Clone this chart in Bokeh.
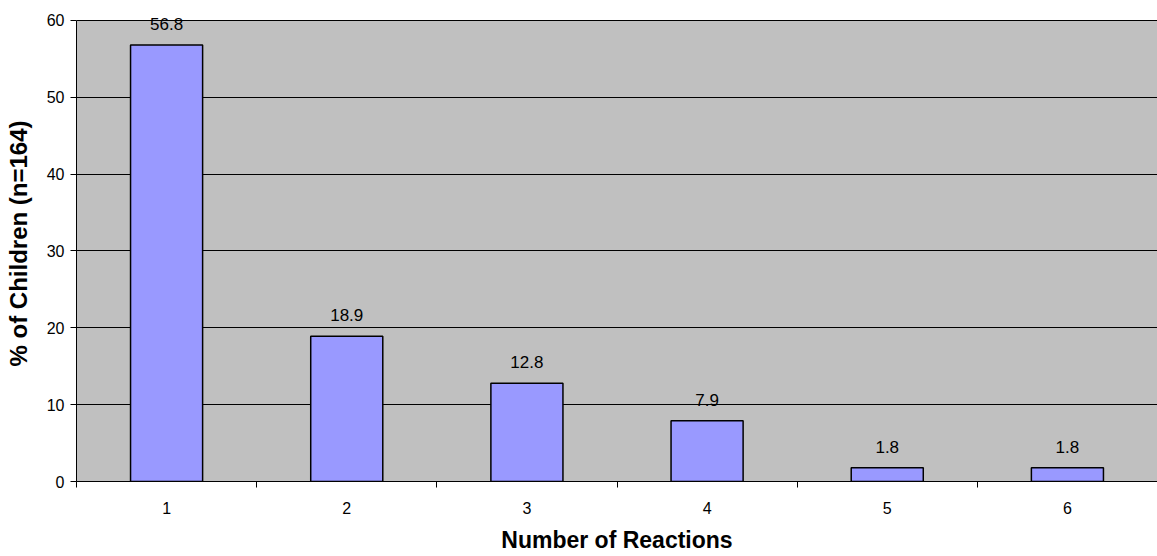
from bokeh.plotting import figure
from bokeh.models import ColumnDataSource, FixedTicker, Range1d, LabelSet, BoxAnnotation
from bokeh.embed import file_html
from bokeh.resources import INLINE
from bokeh.core.properties import value

categories = [1, 2, 3, 4, 5, 6]
percent = [56.8, 18.9, 12.8, 7.9, 1.8, 1.8]
labels = ["56.8", "18.9", "12.8", "7.9", "1.8", "1.8"]
y_ticks = [0, 10, 20, 30, 40, 50, 60]
y_max = 60

src = ColumnDataSource(dict(x=categories, y=percent, lab=labels))

p = figure(width=1157, height=556, output_backend="svg", toolbar_location=None,
           x_range=Range1d(0.5, 6.5), y_range=Range1d(0, 61.95),
           min_border_left=76, min_border_right=0, min_border_top=5, min_border_bottom=75)
p.background_fill_color = "white"
p.border_fill_color = "white"
p.outline_line_color = None

bg = BoxAnnotation(bottom=0, top=y_max, level="image", fill_color="#C0C0C0",
                   fill_alpha=1, line_color=None)
p.add_layout(bg)

p.vbar(x="x", top="y", width=0.4, source=src, fill_color="#9999FF",
       line_color="black", line_width=1.5)
lbl = LabelSet(x="x", y="y", text="lab", source=src, text_align="center",
               text_baseline="bottom", y_offset=15, text_font_size=value("17px"),
               text_font=value("Liberation Sans"), text_color="black")
p.add_layout(lbl)

p.xgrid.visible = False
p.ygrid.grid_line_color = "black"
p.ygrid.grid_line_width = 1
p.ygrid.ticker = FixedTicker(ticks=y_ticks)

p.yaxis.ticker = FixedTicker(ticks=y_ticks)
p.yaxis.bounds = (0, y_max)
p.yaxis.axis_line_color = "black"
p.yaxis.major_tick_in = 0
p.yaxis.major_tick_out = 6
p.yaxis.minor_tick_line_color = None
p.yaxis.major_label_text_font = "Liberation Sans"
p.yaxis.major_label_text_font_size = "16px"
p.yaxis.major_label_text_color = "black"
p.yaxis.major_label_standoff = 6
p.yaxis.axis_label = "% of Children (n=164)"
p.yaxis.axis_label_text_font = "Liberation Sans"
p.yaxis.axis_label_text_font_style = "bold"
p.yaxis.axis_label_text_font_size = "24px"
p.yaxis.axis_label_text_color = "black"
p.yaxis.axis_label_standoff = 12

p.xaxis.ticker = FixedTicker(ticks=categories, minor_ticks=[0.5, 1.5, 2.5, 3.5, 4.5, 5.5, 6.5])
p.xaxis.axis_line_color = "black"
p.xaxis.major_tick_line_color = None
p.xaxis.major_tick_in = 0
p.xaxis.major_tick_out = 0
p.xaxis.minor_tick_in = 0
p.xaxis.minor_tick_out = 6
p.xaxis.minor_tick_line_color = "black"
p.xaxis.major_label_text_font = "Liberation Sans"
p.xaxis.major_label_text_font_size = "16px"
p.xaxis.major_label_text_color = "black"
p.xaxis.major_label_standoff = 14
p.xaxis.axis_label = "Number of Reactions"
p.xaxis.axis_label_text_font = "Liberation Sans"
p.xaxis.axis_label_text_font_style = "bold"
p.xaxis.axis_label_text_font_size = "23px"
p.xaxis.axis_label_text_color = "black"
p.xaxis.axis_label_standoff = 10

open("out.html", "w").write(file_html(p, INLINE))
